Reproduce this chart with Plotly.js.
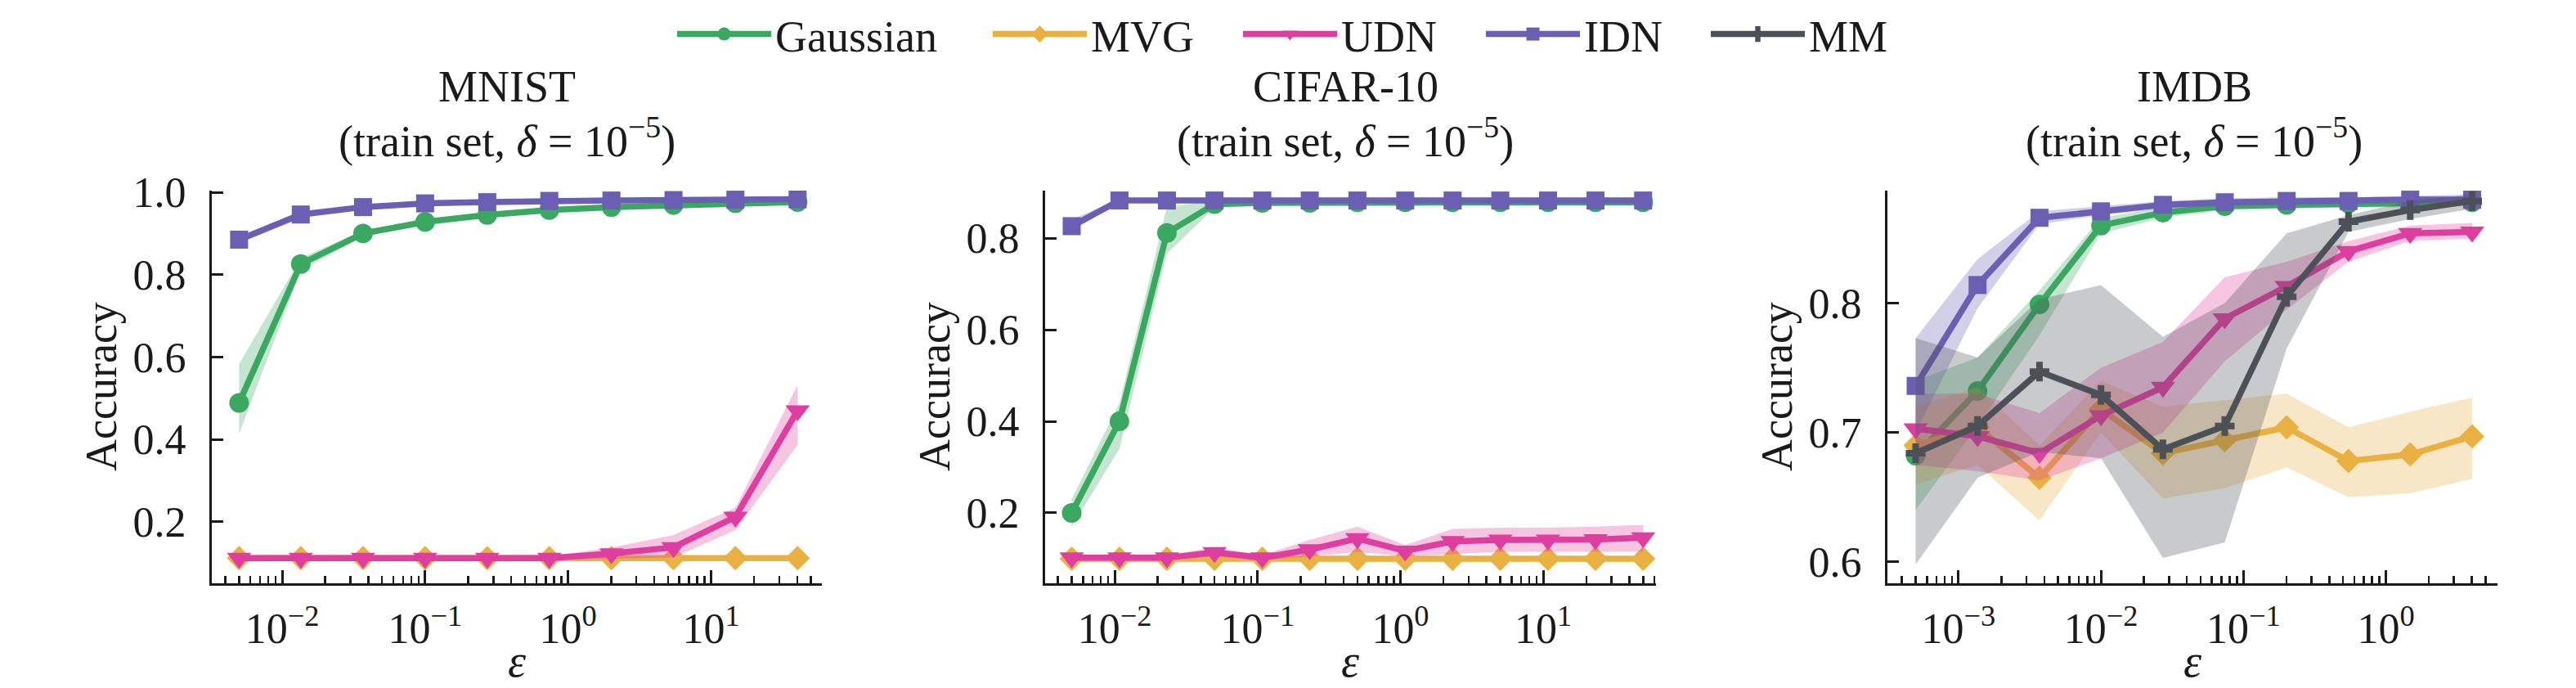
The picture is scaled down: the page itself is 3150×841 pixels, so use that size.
<!DOCTYPE html>
<html>
<head>
<meta charset="utf-8">
<script src="https://cdn.plot.ly/plotly-3.0.1.min.js"></script>
<style>html,body{margin:0;padding:0;background:#fff;}</style>
</head>
<body>
<div id="chart" style="width:3150px;height:841px;"></div>
<script>
// ---------------- DATA ----------------
const seriesNames = ['Gaussian', 'MVG', 'UDN', 'IDN', 'MM'];

// MNIST
const mnistEps = [0.005, 0.0135, 0.0368, 0.1, 0.272, 0.739, 2.01, 5.46, 14.8, 40.3];
const mnistGaussian   = [0.489, 0.826, 0.900, 0.928, 0.945, 0.957, 0.964, 0.969, 0.973, 0.976];
const mnistGaussianLo = [0.414, 0.810, 0.893, 0.922, 0.941, 0.953, 0.960, 0.965, 0.969, 0.972];
const mnistGaussianHi = [0.583, 0.840, 0.907, 0.934, 0.949, 0.961, 0.968, 0.973, 0.977, 0.980];
const mnistMVG   = [0.112, 0.112, 0.112, 0.112, 0.112, 0.112, 0.112, 0.112, 0.112, 0.112];
const mnistMVGLo = [0.106, 0.106, 0.106, 0.106, 0.106, 0.106, 0.106, 0.106, 0.106, 0.106];
const mnistMVGHi = [0.118, 0.118, 0.118, 0.118, 0.118, 0.118, 0.118, 0.118, 0.118, 0.118];
const mnistUDN   = [0.112, 0.112, 0.112, 0.112, 0.112, 0.112, 0.123, 0.138, 0.212, 0.470];
const mnistUDNLo = [0.108, 0.108, 0.108, 0.108, 0.108, 0.108, 0.110, 0.114, 0.180, 0.387];
const mnistUDNHi = [0.116, 0.116, 0.116, 0.116, 0.116, 0.116, 0.138, 0.168, 0.234, 0.532];
const mnistIDN   = [0.885, 0.946, 0.964, 0.973, 0.976, 0.979, 0.980, 0.981, 0.982, 0.983];
const mnistIDNLo = [0.878, 0.940, 0.960, 0.969, 0.972, 0.975, 0.976, 0.977, 0.978, 0.979];
const mnistIDNHi = [0.892, 0.952, 0.968, 0.977, 0.980, 0.983, 0.984, 0.985, 0.986, 0.987];

// CIFAR-10
const cifarEps = [0.005, 0.0108, 0.0232, 0.05, 0.108, 0.232, 0.5, 1.08, 2.32, 5, 10.8, 23.2, 50];
const cifarGaussian   = [0.200, 0.400, 0.811, 0.874, 0.877, 0.877, 0.878, 0.878, 0.878, 0.878, 0.878, 0.878, 0.878];
const cifarGaussianLo = [0.170, 0.340, 0.766, 0.866, 0.873, 0.874, 0.875, 0.875, 0.875, 0.875, 0.875, 0.875, 0.875];
const cifarGaussianHi = [0.230, 0.440, 0.868, 0.881, 0.881, 0.880, 0.881, 0.881, 0.881, 0.881, 0.881, 0.881, 0.881];
const cifarMVG   = [0.100, 0.100, 0.100, 0.100, 0.100, 0.100, 0.100, 0.100, 0.100, 0.100, 0.100, 0.100, 0.100];
const cifarMVGLo = [0.095, 0.095, 0.095, 0.095, 0.095, 0.095, 0.095, 0.095, 0.095, 0.095, 0.095, 0.095, 0.095];
const cifarMVGHi = [0.105, 0.105, 0.105, 0.105, 0.105, 0.105, 0.105, 0.105, 0.105, 0.105, 0.105, 0.105, 0.105];
const cifarUDN   = [0.102, 0.102, 0.102, 0.114, 0.102, 0.120, 0.144, 0.117, 0.138, 0.141, 0.141, 0.142, 0.146];
const cifarUDNLo = [0.097, 0.097, 0.097, 0.105, 0.097, 0.105, 0.115, 0.105, 0.110, 0.115, 0.115, 0.115, 0.115];
const cifarUDNHi = [0.107, 0.107, 0.107, 0.125, 0.108, 0.141, 0.170, 0.130, 0.165, 0.168, 0.168, 0.170, 0.174];
const cifarIDN   = [0.826, 0.882, 0.882, 0.882, 0.882, 0.882, 0.882, 0.882, 0.882, 0.882, 0.882, 0.882, 0.882];
const cifarIDNLo = [0.815, 0.878, 0.878, 0.878, 0.878, 0.878, 0.878, 0.878, 0.878, 0.878, 0.878, 0.878, 0.878];
const cifarIDNHi = [0.840, 0.886, 0.886, 0.886, 0.886, 0.886, 0.886, 0.886, 0.886, 0.886, 0.886, 0.886, 0.886];

// IMDB
const imdbEps = [0.0005, 0.00136, 0.0037, 0.01, 0.0272, 0.0739, 0.201, 0.546, 1.48, 4.03];
const imdbGaussian   = [0.682, 0.732, 0.799, 0.860, 0.870, 0.875, 0.876, 0.877, 0.877, 0.878];
const imdbGaussianLo = [0.640, 0.705, 0.775, 0.854, 0.866, 0.872, 0.873, 0.874, 0.874, 0.875];
const imdbGaussianHi = [0.740, 0.758, 0.810, 0.866, 0.874, 0.878, 0.879, 0.880, 0.880, 0.881];
const imdbMVG   = [0.690, 0.704, 0.665, 0.718, 0.684, 0.694, 0.704, 0.678, 0.683, 0.697];
const imdbMVGLo = [0.660, 0.675, 0.632, 0.700, 0.649, 0.657, 0.673, 0.650, 0.653, 0.664];
const imdbMVGHi = [0.720, 0.735, 0.690, 0.740, 0.720, 0.725, 0.730, 0.704, 0.716, 0.727];
const imdbUDN   = [0.703, 0.697, 0.684, 0.713, 0.735, 0.788, 0.813, 0.840, 0.854, 0.855];
const imdbUDNLo = [0.675, 0.670, 0.663, 0.680, 0.700, 0.755, 0.795, 0.832, 0.848, 0.850];
const imdbUDNHi = [0.730, 0.730, 0.715, 0.750, 0.770, 0.820, 0.832, 0.848, 0.860, 0.862];
const imdbIDN   = [0.736, 0.814, 0.866, 0.871, 0.876, 0.878, 0.879, 0.879, 0.880, 0.880];
const imdbIDNLo = [0.700, 0.796, 0.861, 0.868, 0.873, 0.875, 0.876, 0.876, 0.877, 0.877];
const imdbIDNHi = [0.773, 0.834, 0.871, 0.875, 0.879, 0.881, 0.882, 0.882, 0.883, 0.884];
const imdbMM   = [0.684, 0.705, 0.747, 0.729, 0.687, 0.705, 0.805, 0.863, 0.872, 0.879];
const imdbMMLo = [0.598, 0.665, 0.685, 0.680, 0.603, 0.615, 0.765, 0.855, 0.865, 0.873];
const imdbMMHi = [0.773, 0.758, 0.803, 0.814, 0.774, 0.800, 0.854, 0.868, 0.879, 0.884];

// Tick labels / texts
const panelTitles = ['MNIST', 'CIFAR-10', 'IMDB'];
const subTitle = '(train set, <i>δ</i> = 10<sup>−5</sup>)';
const mnistYTicks = [0.2, 0.4, 0.6, 0.8, 1.0];
const cifarYTicks = [0.2, 0.4, 0.6, 0.8];
const imdbYTicks = [0.6, 0.7, 0.8];
const mnistXTicks = [0.01, 0.1, 1, 10];
const mnistXTickText = ['10<sup>−2</sup>', '10<sup>−1</sup>', '10<sup>0</sup>', '10<sup>1</sup>'];
const cifarXTicks = [0.01, 0.1, 1, 10];
const cifarXTickText = ['10<sup>−2</sup>', '10<sup>−1</sup>', '10<sup>0</sup>', '10<sup>1</sup>'];
const imdbXTicks = [0.001, 0.01, 0.1, 1];
const imdbXTickText = ['10<sup>−3</sup>', '10<sup>−2</sup>', '10<sup>−1</sup>', '10<sup>0</sup>'];

// ---------------- STYLE ----------------
const W = 3150, H = 841;
const FONT = 'Liberation Serif';
const INK = '#1a1a1a';
const colors = {Gaussian: '#3ba862', MVG: '#e9b141', UDN: '#de3e9f', IDN: '#6a5fb3', MM: '#4b5157'};
const bandColors = {Gaussian: 'rgba(59,168,98,0.3)', MVG: 'rgba(233,177,65,0.3)', UDN: 'rgba(222,62,159,0.3)',
                    IDN: 'rgba(106,95,179,0.3)', MM: 'rgba(75,81,87,0.3)'};
const symbols = {Gaussian: 'circle', MVG: 'diamond', UDN: 'triangle-down', IDN: 'square', MM: 'cross'};
const msizes = {Gaussian: 24, MVG: 23, UDN: 26, IDN: 22, MM: 20};

const px = v => v / W;
const py = v => 1 - v / H;

// plot-area pixel geometry (left, right) per panel, common top/bottom
const panelsPx = [[259, 1005], [1278, 2025], [2308, 3054]];
const topPx = 233, botPx = 713;
// legend entry line start positions (px)
const legendStartPx = {Gaussian: 833, MVG: 1219, UDN: 1525, IDN: 1822, MM: 2097};
const legendIds = {Gaussian: 'legend', MVG: 'legend2', UDN: 'legend3', IDN: 'legend4', MM: 'legend5'};

const panels = [
  {eps: mnistEps, data: {Gaussian: [mnistGaussian, mnistGaussianLo, mnistGaussianHi], MVG: [mnistMVG, mnistMVGLo, mnistMVGHi],
     UDN: [mnistUDN, mnistUDNLo, mnistUDNHi], IDN: [mnistIDN, mnistIDNLo, mnistIDNHi]},
   yrange: [0.051, 1.004], xrange: [-2.492, 1.775], yticks: mnistYTicks, xticks: mnistXTicks, xtext: mnistXTickText, titleX: 620},
  {eps: cifarEps, data: {Gaussian: [cifarGaussian, cifarGaussianLo, cifarGaussianHi], MVG: [cifarMVG, cifarMVGLo, cifarMVGHi],
     UDN: [cifarUDN, cifarUDNLo, cifarUDNHi], IDN: [cifarIDN, cifarIDNLo, cifarIDNHi]},
   yrange: [0.0464, 0.9036], xrange: [-2.487, 1.789], yticks: cifarYTicks, xticks: cifarXTicks, xtext: cifarXTickText, titleX: 1645},
  {eps: imdbEps, data: {Gaussian: [imdbGaussian, imdbGaussianLo, imdbGaussianHi], MVG: [imdbMVG, imdbMVGLo, imdbMVGHi],
     UDN: [imdbUDN, imdbUDNLo, imdbUDNHi], IDN: [imdbIDN, imdbIDNLo, imdbIDNHi], MM: [imdbMM, imdbMMLo, imdbMMHi]},
   yrange: [0.5834, 0.887], xrange: [-3.499, 0.783], yticks: imdbYTicks, xticks: imdbXTicks, xtext: imdbXTickText, titleX: 2683}
];

// minor ticks 2..9 per decade
const minorVals = [];
for (let d = -5; d <= 2; d++) for (let k = 2; k <= 9; k++) minorVals.push(k * Math.pow(10, d));

const traces = [];
const layout = {
  width: W, height: H,
  margin: {l: 0, r: 0, t: 0, b: 0},
  paper_bgcolor: '#fff', plot_bgcolor: '#fff',
  font: {family: FONT, size: 52, color: INK},
  showlegend: true,
  annotations: []
};
seriesNames.forEach(name => {
  layout[legendIds[name]] = {
    orientation: 'h', x: px(legendStartPx[name] - 10), xanchor: 'left', y: 1, yanchor: 'top',
    font: {family: FONT, size: 54, color: INK}, itemwidth: 115, bgcolor: 'rgba(0,0,0,0)', borderwidth: 0,
    itemclick: false, itemdoubleclick: false
  };
});

const legendShown = {};
panels.forEach((p, i) => {
  const n = i === 0 ? '' : String(i + 1);
  const xa = 'x' + n, ya = 'y' + n;
  seriesNames.forEach(name => {
    if (!p.data[name]) return;
    const [mean, lo, hi] = p.data[name];
    traces.push({
      type: 'scatter', mode: 'lines', xaxis: xa, yaxis: ya,
      x: p.eps.concat(p.eps.slice().reverse()),
      y: hi.concat(lo.slice().reverse()),
      fill: 'toself', fillcolor: bandColors[name], line: {width: 0, color: 'rgba(0,0,0,0)'},
      hoverinfo: 'skip', showlegend: false
    });
    const show = !legendShown[name];
    legendShown[name] = true;
    traces.push({
      type: 'scatter', mode: 'lines+markers', xaxis: xa, yaxis: ya, name: name,
      x: p.eps, y: mean, legendgroup: name, showlegend: show, legend: legendIds[name],
      line: {color: colors[name], width: 7.5},
      marker: {symbol: symbols[name], size: msizes[name], color: colors[name], line: {width: 0}}
    });
  });
  const [l, r] = panelsPx[i];
  layout['xaxis' + n] = {
    type: 'log', domain: [px(l), px(r)], anchor: ya, range: p.xrange,
    showline: true, linecolor: INK, linewidth: 3, mirror: false,
    showgrid: false, zeroline: false,
    ticks: 'inside', ticklen: 16, tickwidth: 3, tickcolor: INK,
    tickmode: 'array', tickvals: p.xticks, ticktext: p.xtext,
    tickfont: {family: FONT, size: 52, color: INK}, ticklabelstandoff: 8,
    minor: {tickmode: 'array', tickvals: minorVals, ticks: 'inside', ticklen: 9, tickwidth: 2.5, tickcolor: INK, showgrid: false}
  };
  layout['yaxis' + n] = {
    domain: [py(botPx), py(topPx)], anchor: xa, range: p.yrange,
    showline: true, linecolor: INK, linewidth: 3, mirror: false,
    showgrid: false, zeroline: false,
    ticks: 'inside', ticklen: 14, tickwidth: 3, tickcolor: INK,
    tickmode: 'array', tickvals: p.yticks, tickformat: '.1f',
    tickfont: {family: FONT, size: 52, color: INK}, ticklabelstandoff: 18
  };
  // titles
  layout.annotations.push({xref: 'paper', yref: 'paper', x: px(p.titleX), y: py(138), xanchor: 'center', yanchor: 'bottom',
    text: panelTitles[i], showarrow: false, font: {family: FONT, size: 54, color: INK}});
  layout.annotations.push({xref: 'paper', yref: 'paper', x: px(p.titleX), y: py(205), xanchor: 'center', yanchor: 'bottom',
    text: subTitle, showarrow: false, font: {family: FONT, size: 54, color: INK}});
  // axis titles
  layout.annotations.push({xref: 'paper', yref: 'paper', x: px((l + r) / 2), y: py(775), xanchor: 'center', yanchor: 'top',
    text: '<i>ε</i>', showarrow: false, font: {family: FONT, size: 56, color: INK}});
  layout.annotations.push({xref: 'paper', yref: 'paper', x: px(l - 135), y: py((topPx + botPx) / 2), xanchor: 'center', yanchor: 'middle',
    text: 'Accuracy', textangle: -90, showarrow: false, font: {family: FONT, size: 54, color: INK}});
});

Plotly.newPlot('chart', traces, layout, {staticPlot: true, displayModeBar: false});
</script>
</body>
</html>
